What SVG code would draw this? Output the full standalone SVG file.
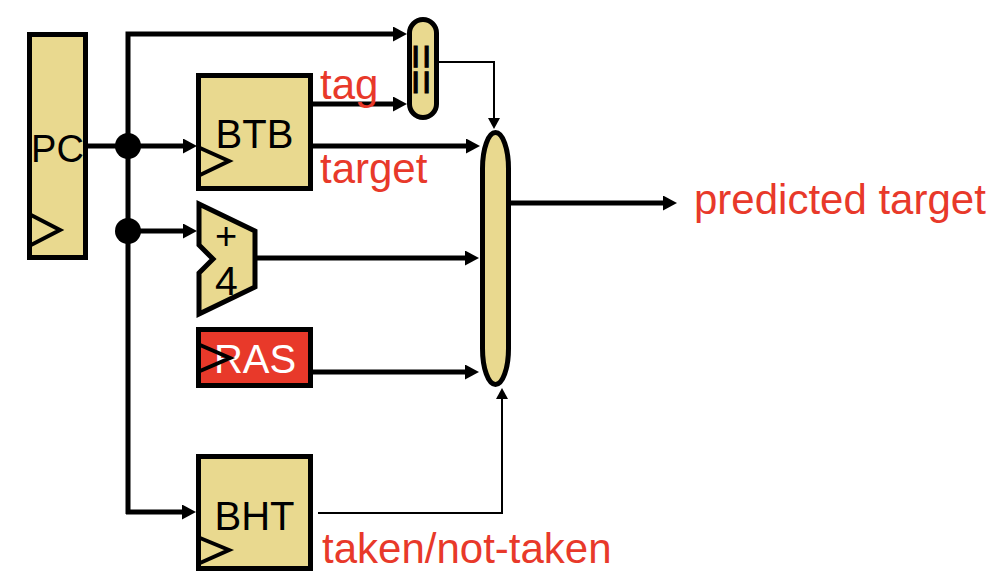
<svg xmlns="http://www.w3.org/2000/svg" width="1004" height="584" viewBox="0 0 1004 584">
<style>
.blk{fill:#e9d98f;stroke:#000;stroke-width:5}
.lbl{font-family:"Liberation Sans",Arial,sans-serif;font-size:40px;fill:#000;text-anchor:middle}
.red{font-family:"Liberation Sans",Arial,sans-serif;font-size:42px;fill:#e8392a}
.clk{fill:none;stroke:#000;stroke-width:4;stroke-linejoin:miter}
.w{fill:none;stroke:#000;stroke-width:5;stroke-linejoin:miter}
.t{fill:none;stroke:#000;stroke-width:2;stroke-linejoin:miter}
</style>
<defs>
<marker id="ah" markerUnits="userSpaceOnUse" markerWidth="15" markerHeight="16" refX="6" refY="7.5" orient="auto">
<path d="M0,0 L14,7.5 L0,15 z" fill="#000"/>
</marker>
<marker id="aht" markerUnits="userSpaceOnUse" markerWidth="12" markerHeight="13" refX="4" refY="6" orient="auto">
<path d="M0,0 L11,6 L0,12 z" fill="#000"/>
</marker>
</defs>
<g id="connectors">
<path class="w" d="M88,146 L189,146" marker-end="url(#ah)"/>
<path class="w" d="M128,514 L128,34 L399,34" marker-end="url(#ah)"/>
<path class="w" d="M128,231 L189,231" marker-end="url(#ah)"/>
<path class="w" d="M126,512 L188,512" marker-end="url(#ah)"/>
<path class="w" d="M313,104 L399,104" marker-end="url(#ah)"/>
<path class="w" d="M313,146 L472,146" marker-end="url(#ah)"/>
<path class="w" d="M257,258 L471,258" marker-end="url(#ah)"/>
<path class="w" d="M313,372 L471,372" marker-end="url(#ah)"/>
<path class="w" d="M511,203 L669,203" marker-end="url(#ah)"/>
<path class="t" d="M439,62 L494,62 L494,122" marker-end="url(#aht)"/>
<path class="t" d="M318,513 L502,513 L502,395" marker-end="url(#aht)"/>
<circle cx="128" cy="146" r="13" fill="#000"/>
<circle cx="128" cy="231" r="13" fill="#000"/>
</g>
<g id="pc">
<rect class="blk" x="29.5" y="34.5" width="56" height="223"/>
<text class="lbl" x="57.5" y="162" style="font-size:38px">PC</text>
<polyline class="clk" points="31,215 60,230 31,245"/>
</g>
<g id="btb">
<rect class="blk" x="198.5" y="75.5" width="112" height="113"/>
<text class="lbl" x="254.5" y="148">BTB</text>
<polyline class="clk" points="200,148 229,161 200,175"/>
</g>
<g id="adder">
<polygon class="blk" points="199,204 255,231 255,287 199,314 199,273 213,259 199,245"/>
<text class="lbl" x="226" y="249" style="font-size:38px">+</text>
<text class="lbl" x="226.5" y="295" style="font-size:41px">4</text>
</g>
<g id="ras">
<rect x="198.5" y="329.5" width="112" height="56" fill="#e8392a" stroke="#000" stroke-width="5"/>
<text class="lbl" x="255" y="373" style="fill:#fff">RAS</text>
<polyline class="clk" points="200,345 230,358 200,371"/>
</g>
<g id="bht">
<rect class="blk" x="198.5" y="456.5" width="112" height="112"/>
<text class="lbl" x="254.5" y="530">BHT</text>
<polyline class="clk" points="200,538 229,550 200,563"/>
</g>
<g id="comparator">
<rect class="blk" x="409.5" y="19.5" width="27" height="98" rx="13.5" ry="13.5"/>
<text transform="translate(421,69.5) rotate(90)" y="15.5" style="font-family:'Liberation Sans',Arial,sans-serif;font-size:44px;fill:#000;stroke:#000;stroke-width:0.9;text-anchor:middle">==</text>
</g>
<g id="mux">
<rect class="blk" x="482.5" y="132.5" width="26" height="252" rx="13" ry="36"/>
</g>
<g id="labels">
<text class="red" x="320" y="99">tag</text>
<text class="red" x="320" y="183">target</text>
<text class="red" x="694" y="214">predicted target</text>
<text class="red" x="322" y="563">taken/not-taken</text>
</g>
</svg>
